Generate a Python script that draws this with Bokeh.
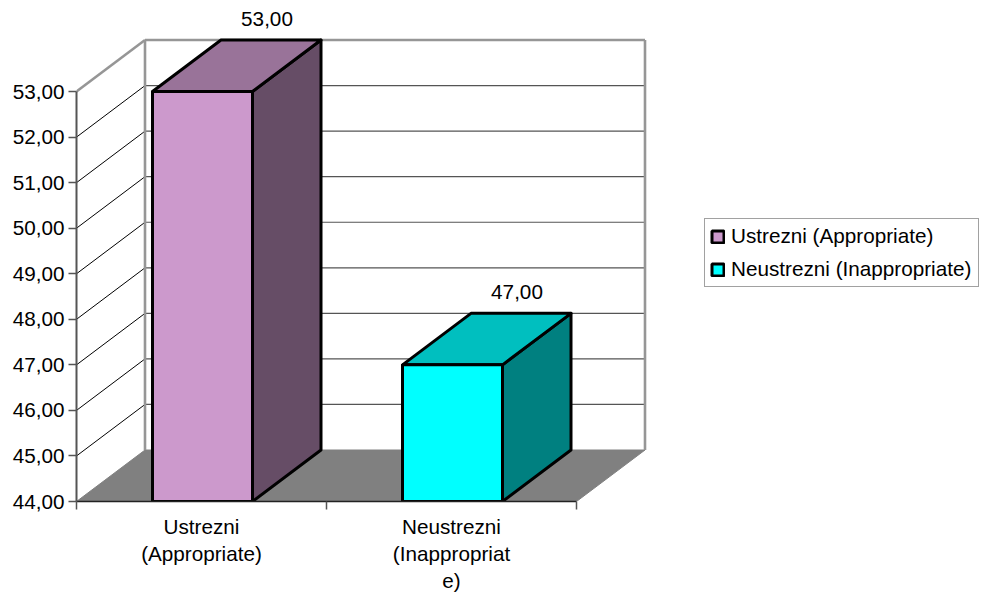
from bokeh.plotting import figure
from bokeh.models import ColumnDataSource, FixedTicker, Legend, LegendItem, Range1d
from bokeh.core.properties import value
from bokeh.embed import file_html
from bokeh.resources import INLINE

names = ["Ustrezni (Appropriate)", "Neustrezni (Inappropriate)"]
categories = ["Ustrezni\n(Appropriate)", "Neustrezni\n(Inappropriat\ne)"]
values = [53.0, 47.0]
value_labels = ["53,00", "47,00"]
y_ticks = [44, 45, 46, 47, 48, 49, 50, 51, 52, 53]
y_tick_labels = ["44,00", "45,00", "46,00", "47,00", "48,00", "49,00", "50,00", "51,00", "52,00", "53,00"]
front_colors = ["#CC99CC", "#00FFFF"]
top_colors = ["#997399", "#00BFBF"]
side_colors = ["#664D66", "#008080"]

FONT = "Liberation Sans"
FS = "20.7px"
W, H = 984, 597
PX_X, PX_Y = 250.0, 45.55
DX, DY = 68.5 / PX_X, 51.5 / PX_Y
BASE, TOP = y_ticks[0], y_ticks[-1]
BAR = 0.4
NUDGE = 1.0 / PX_X

left, right, top, bottom = 76, 0, 0, 96
x_end = (W - left - right) / PX_X
y_end = BASE + (H - top - bottom) / PX_Y

p = figure(width=W, height=H, output_backend="svg", toolbar_location=None,
           x_range=Range1d(0, x_end), y_range=Range1d(BASE, y_end),
           min_border_left=left, min_border_right=right,
           min_border_top=top, min_border_bottom=bottom)
p.grid.visible = False
p.outline_line_color = None

n = len(categories)

# floor
p.patch([0, n, n + DX, DX], [BASE, BASE, BASE + DY, BASE + DY],
        fill_color="#808080", line_color="#808080", line_width=1)

# gridlines on the side and back walls
inner = y_ticks[1:-1]
p.multi_line([[0, DX] for _ in inner], [[t, t + DY] for t in inner], line_color="#000000", line_width=1)
p.multi_line([[DX, n + DX] for _ in inner], [[t + DY, t + DY] for t in inner], line_color="#555555", line_width=1.2)

# wall edges
WALL = "#969696"
p.multi_line([[DX, DX], [n + DX, n + DX], [DX, n + DX], [0, DX]],
             [[BASE + DY, TOP + DY], [BASE + DY, TOP + DY], [TOP + DY, TOP + DY], [TOP, TOP + DY]],
             line_color=WALL, line_width=2.6)

# bars
renderers = []
EDGE = 3
for i, (v, fc, tc, sc) in enumerate(zip(values, front_colors, top_colors, side_colors)):
    c = i + 0.5 + NUDGE
    x0, x1 = c - BAR / 2, c + BAR / 2
    p.patch([x1, x1 + DX, x1 + DX, x1], [BASE, BASE + DY, v + DY, v],
            fill_color=sc, line_color="black", line_width=EDGE, line_join="round")
    p.patch([x0, x1, x1 + DX, x0 + DX], [v, v, v + DY, v + DY],
            fill_color=tc, line_color="black", line_width=EDGE, line_join="round")
    r = p.vbar(x=[c], width=BAR, top=[v], bottom=BASE,
               fill_color=fc, line_color="black", line_width=EDGE)
    renderers.append(r)

# value labels
src = ColumnDataSource(dict(x=[i + 0.5 + DX for i in range(n)],
                            y=[v + DY for v in values], t=value_labels))
p.text("x", "y", text="t", source=src, text_font=value(FONT), text_font_size=value(FS),
       text_color="#000000", text_align="center", text_baseline="alphabetic",
       x_offset=-3, y_offset=-21)

# axes
ya = p.yaxis[0]
ya.ticker = FixedTicker(ticks=y_ticks)
ya.bounds = (BASE, TOP)
ya.major_label_overrides = {t: l for t, l in zip(y_ticks, y_tick_labels)}
ya.major_label_text_font = FONT
ya.major_label_text_font_size = FS
ya.major_label_text_color = "#000000"
ya.major_label_standoff = 4
ya.major_tick_in = 0
ya.major_tick_out = 8
ya.minor_tick_line_color = None
ya.axis_line_color = "#555555"
ya.axis_line_width = 2
ya.major_tick_line_color = "#555555"
ya.major_tick_line_width = 1.5

xa = p.xaxis[0]
centres = [i + 0.5 for i in range(n)]
xa.ticker = FixedTicker(ticks=centres, minor_ticks=list(range(n + 1)))
xa.bounds = (0, n)
xa.major_label_overrides = {c: l for c, l in zip(centres, categories)}
xa.major_label_text_font = FONT
xa.major_label_text_font_size = FS
xa.major_label_text_color = "#000000"
xa.major_label_text_line_height = 1.19
xa.major_label_standoff = 5
xa.major_tick_in = 0
xa.major_tick_out = 0
xa.major_tick_line_color = None
xa.minor_tick_in = 0
xa.minor_tick_out = 8
xa.minor_tick_line_color = "#555555"
xa.minor_tick_line_width = 1.5
xa.axis_line_color = "#222222"
xa.axis_line_width = 1.5

# legend
legend = Legend(items=[LegendItem(label=nm, renderers=[r]) for nm, r in zip(names, renderers)],
                location=(628, 214), orientation="vertical",
                label_text_font=FONT, label_text_font_size=FS, label_text_color="#000000",
                glyph_width=15, glyph_height=15, label_height=19, label_standoff=6, label_width=242,
                padding=5, spacing=9, margin=0,
                border_line_color="#444444", border_line_width=1.2,
                background_fill_color="white", background_fill_alpha=1)
p.add_layout(legend)

open("out.html", "w").write(file_html(p, INLINE))
